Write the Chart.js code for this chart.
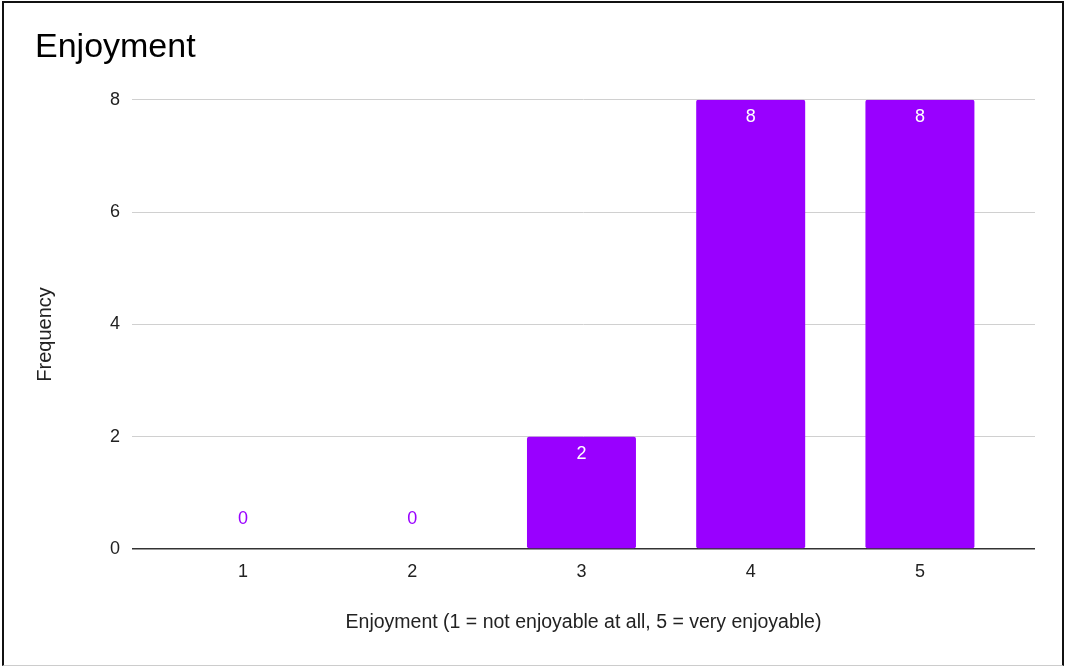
<!DOCTYPE html>
<html>
<head>
<meta charset="utf-8">
<script src="https://cdn.jsdelivr.net/npm/chart.js@4/dist/chart.umd.min.js"></script>
<style>
  html, body { margin: 0; padding: 0; background: #fff; }
  #wrap { position: relative; width: 1065px; height: 666px; overflow: hidden; }
  #frame {
    position: absolute; left: 2px; top: 1px; right: 1px; bottom: 0;
    border: 2px solid #111; border-bottom: 1px solid #ccc;
    pointer-events: none;
  }
  canvas { position: absolute; left: 0; top: 0; }
</style>
</head>
<body>
<div id="wrap">
  <canvas id="chart" width="1065" height="666"></canvas>
  <div id="frame"></div>
</div>
<script>
'use strict';

// Enjoyment ratings and how many answers each got
const ratings = [1, 2, 3, 4, 5];
const counts = [0, 0, 2, 8, 8];
const yTicks = [0, 2, 4, 6, 8];

const BAR = '#9900ff';
const FONT = "'Liberation Sans', Arial, sans-serif";

// value labels: white inside the bar top, coloured above the axis when empty
const barLabels = {
  id: 'barLabels',
  afterDatasetsDraw(chart) {
    const { ctx } = chart;
    const meta = chart.getDatasetMeta(0);
    ctx.save();
    ctx.font = `18px ${FONT}`;
    ctx.textAlign = 'center';
    ctx.textBaseline = 'middle';
    meta.data.forEach((bar, i) => {
      const v = counts[i];
      if (v > 0) {
        ctx.fillStyle = '#fff';
        ctx.fillText(String(v), bar.x, bar.y + 17);
      } else {
        ctx.fillStyle = BAR;
        ctx.fillText(String(v), bar.x, bar.base - 30);
      }
    });
    ctx.restore();
  }
};

// vertical axis title, sitting a little below the middle of the plot
const yTitle = {
  id: 'yTitle',
  afterDraw(chart) {
    const { ctx, chartArea } = chart;
    const cy = (chartArea.top + chartArea.bottom) / 2 + 10;
    ctx.save();
    ctx.translate(45, cy);
    ctx.rotate(-Math.PI / 2);
    ctx.font = `20px ${FONT}`;
    ctx.fillStyle = '#222';
    ctx.textAlign = 'center';
    ctx.textBaseline = 'middle';
    ctx.fillText('Frequency', 0, 0);
    ctx.restore();
  }
};

new Chart(document.getElementById('chart'), {
  type: 'bar',
  data: {
    datasets: [{
      data: ratings.map((r, i) => ({ x: r, y: counts[i] })),
      backgroundColor: BAR,
      borderRadius: 2,
      borderSkipped: false,
      categoryPercentage: 1,
      barPercentage: 0.644
    }]
  },
  options: {
    responsive: false,
    animation: false,
    layout: { padding: { left: 35, right: 30, top: 0, bottom: 22 } },
    plugins: {
      legend: { display: false },
      tooltip: { enabled: false },
      title: {
        display: true,
        text: 'Enjoyment',
        align: 'start',
        color: '#000',
        font: { family: FONT, size: 34, weight: 'normal' },
        padding: { top: 27, bottom: 32 }
      }
    },
    scales: {
      x: {
        type: 'linear',
        offset: false,
        min: 0.344,
        max: 5.68,
        grid: { display: false, drawTicks: false },
        border: { display: false },
        ticks: {
          stepSize: 1,
          includeBounds: false,
          padding: 12,
          color: '#222',
          font: { family: FONT, size: 18 },
          callback: v => ratings.includes(v) ? String(v) : ''
        },
        title: {
          display: true,
          text: 'Enjoyment (1 = not enjoyable at all, 5 = very enjoyable)',
          color: '#222',
          font: { family: FONT, size: 19.5 },
          padding: { top: 0, bottom: 10 }
        },
        afterFit: s => { s.height = 95; }
      },
      y: {
        min: yTicks[0],
        max: yTicks[yTicks.length - 1],
        afterBuildTicks: s => { s.ticks = yTicks.map(v => ({ value: v })); },
        grid: {
          drawTicks: false,
          color: c => c.tick.value === 0 ? '#333' : '#d0d0d0',
          lineWidth: c => c.tick.value === 0 ? 1.5 : 1
        },
        border: { display: false },
        ticks: {
          padding: 12,
          color: '#222',
          font: { family: FONT, size: 18 }
        },
        afterFit: s => { s.width = 97; }
      }
    }
  },
  plugins: [barLabels, yTitle]
});
</script>
</body>
</html>
